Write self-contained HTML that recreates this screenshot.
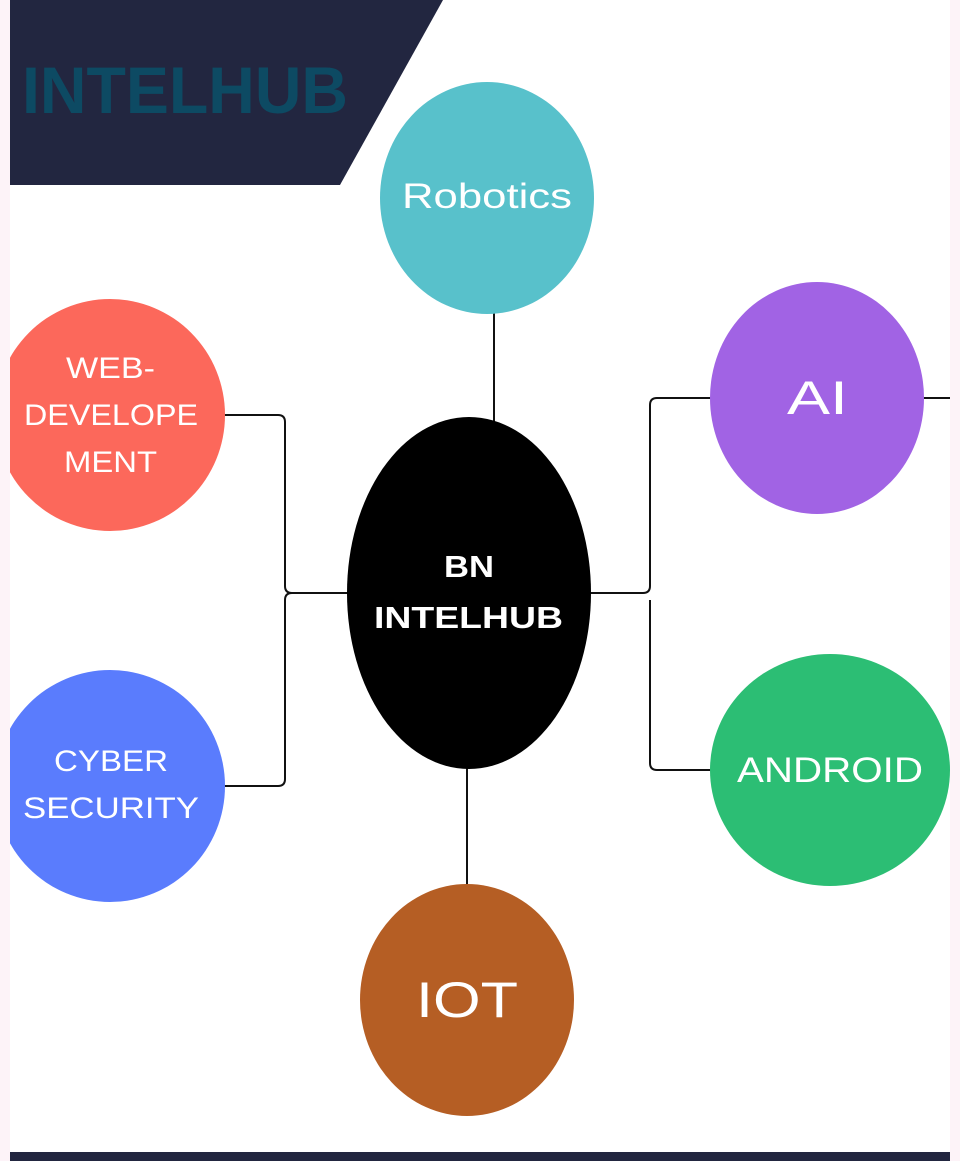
<!DOCTYPE html>
<html><head><style>
html,body{margin:0;padding:0;}
body{width:960px;height:1161px;background:#fdf3f8;position:relative;overflow:hidden;font-family:"Liberation Sans",sans-serif;}
#main{position:absolute;left:10px;top:0;width:940px;height:1161px;background:#fff;overflow:hidden;}
</style></head><body>
<div id="main"></div>
<svg width="960" height="1161" style="position:absolute;left:0;top:0">
<defs><clipPath id="c"><rect x="10" y="0" width="940" height="1161"/></clipPath></defs>
<g clip-path="url(#c)">
<polygon points="10,0 443,0 340,185 10,185" fill="#222640"/>
<text x="22" y="113" font-family="Liberation Sans" font-weight="bold" font-size="66" fill="#0d4a63" textLength="326" lengthAdjust="spacingAndGlyphs">INTELHUB</text>
<g fill="none" stroke="#111" stroke-width="2">
<line x1="494" y1="310" x2="494" y2="422"/>
<line x1="467" y1="765" x2="467" y2="888"/>
<path d="M222,415 H278 Q285,415 285,422 V586 Q285,593 292,593 H350"/>
<path d="M222,786 H278 Q285,786 285,779 V600 Q285,593 292,593"/>
<path d="M588,593 H643 Q650,593 650,586 V405 Q650,398 657,398 H712"/>
<path d="M650,600 V763 Q650,770 657,770 H712"/>
<line x1="922" y1="398" x2="950" y2="398"/>
</g>
<ellipse cx="487" cy="198" rx="107" ry="116" fill="#58c1cb"/>
<ellipse cx="110" cy="415" rx="115" ry="116" fill="#fc685b"/>
<ellipse cx="110" cy="786" rx="115" ry="116" fill="#5a7cfd"/>
<ellipse cx="817" cy="398" rx="107" ry="116" fill="#a163e4"/>
<ellipse cx="830" cy="770" rx="120" ry="116" fill="#2cbe74"/>
<ellipse cx="467" cy="1000" rx="107" ry="116" fill="#b55e24"/>
<ellipse cx="469" cy="593" rx="122" ry="176" fill="#000"/>
<g fill="#fff" font-family="Liberation Sans" lengthAdjust="spacingAndGlyphs">
<text x="402" y="208" font-size="35" textLength="170" lengthAdjust="spacingAndGlyphs">Robotics</text>
<text x="66" y="378" font-size="30" textLength="89" lengthAdjust="spacingAndGlyphs">WEB-</text>
<text x="24" y="425" font-size="30" textLength="174" lengthAdjust="spacingAndGlyphs">DEVELOPE</text>
<text x="64" y="472" font-size="30" textLength="93" lengthAdjust="spacingAndGlyphs">MENT</text>
<text x="54" y="771" font-size="30" textLength="114" lengthAdjust="spacingAndGlyphs">CYBER</text>
<text x="23" y="818" font-size="30" textLength="176" lengthAdjust="spacingAndGlyphs">SECURITY</text>
<text x="787" y="414" font-size="47" textLength="61" lengthAdjust="spacingAndGlyphs">AI</text>
<text x="737" y="782" font-size="35" textLength="186" lengthAdjust="spacingAndGlyphs">ANDROID</text>
<text x="416" y="1017" font-size="50" textLength="102" lengthAdjust="spacingAndGlyphs">IOT</text>
<text x="444" y="577" font-size="31" font-weight="bold" textLength="50" lengthAdjust="spacingAndGlyphs">BN</text>
<text x="374" y="628" font-size="31" font-weight="bold" textLength="189" lengthAdjust="spacingAndGlyphs">INTELHUB</text>
</g>
<rect x="10" y="1152" width="940" height="9" fill="#222640"/>
</g>
</svg>
</body></html>
